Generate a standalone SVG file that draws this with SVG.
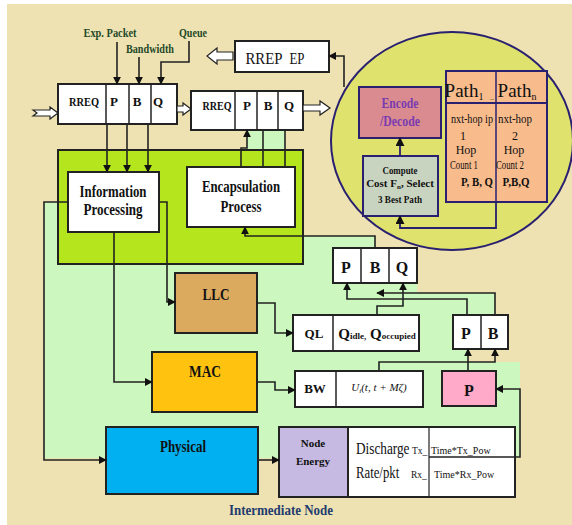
<svg xmlns="http://www.w3.org/2000/svg" width="572" height="525" viewBox="0 0 572 525">
<defs>
<style>
.t{font-family:"Liberation Serif","Times New Roman",serif;font-weight:bold;fill:#111;text-anchor:middle}
.n{font-family:"Liberation Serif","Times New Roman",serif;fill:#111;text-anchor:middle}
.lbl{font-family:"Liberation Serif","Times New Roman",serif;font-weight:bold;fill:#1f4a2a;text-anchor:middle;font-size:12px}
.box{fill:#fff;stroke:#222;stroke-width:2}
.ln{fill:none;stroke:#222;stroke-width:1.6}
.pl{fill:none;stroke:#2a2070;stroke-width:1.8}
.ha{fill:#fff;stroke:#222;stroke-width:1.2}
</style>
<marker id="ah" viewBox="0 0 10 10" refX="9" refY="5" markerWidth="5" markerHeight="5" orient="auto"><path d="M0,0L10,5L0,10z" fill="#111"/></marker>
<marker id="ap" viewBox="0 0 10 10" refX="9" refY="5" markerWidth="5" markerHeight="5" orient="auto"><path d="M0,0L10,5L0,10z" fill="#111"/></marker>
</defs>
<rect x="7" y="4" width="565" height="521" fill="#efe2b2"/>
<polygon points="44,202 58,202 58,264 303,264 303,236 375,236 375,248 417,248 417,293 495,293 495,349 468,349 468,362 520,362 520,458 44,458" fill="#ccf8bf"/>
<rect x="247" y="130" width="38" height="20" fill="#ccf8bf"/>
<g id="ellipse">
<ellipse cx="452" cy="141" rx="121" ry="109" fill="#dfe36e" stroke="#2a2070" stroke-width="2"/>
</g>
<g id="encode">
<rect x="359" y="87" width="82" height="51" fill="#d98b8f" stroke="#2a2070" stroke-width="2"/>
<text class="t" x="400" y="108" font-size="14" style="fill:#7a3bb0" textLength="37" lengthAdjust="spacingAndGlyphs">Encode</text>
<text class="t" x="400" y="126" font-size="14" style="fill:#7a3bb0" textLength="40" lengthAdjust="spacingAndGlyphs">/Decode</text>
</g>
<g id="compute">
<rect x="363" y="156" width="75" height="60" fill="#c8d4c0" stroke="#2a2070" stroke-width="2"/>
<text class="t" x="400" y="174" font-size="11" textLength="35" lengthAdjust="spacingAndGlyphs">Compute</text>
<text class="t" x="400" y="187" font-size="11">Cost F<tspan font-size="7" dy="2">n</tspan><tspan dy="-2">, Select</tspan></text>
<text class="t" x="400" y="203" font-size="11" textLength="44" lengthAdjust="spacingAndGlyphs">3 Best Path</text>
</g>
<g id="paths">
<rect x="446" y="71" width="101" height="131" fill="#f8bb8c" stroke="#2a2070" stroke-width="2"/>
<line x1="446" y1="103" x2="547" y2="103" stroke="#2a2070" stroke-width="2"/>
<line x1="496" y1="71" x2="496" y2="202" stroke="#2a2070" stroke-width="1.5"/>
<text class="n" x="464" y="97" font-size="19">Path<tspan font-size="10" dy="3">1</tspan></text>
<text class="n" x="492" y="100" font-size="8">..</text>
<text class="n" x="517" y="97" font-size="19">Path<tspan font-size="10" dy="3">n</tspan></text>
<text class="n" x="472" y="123" font-size="12" textLength="42" lengthAdjust="spacingAndGlyphs">nxt-hop ip</text>
<text class="n" x="515" y="123" font-size="12" textLength="34" lengthAdjust="spacingAndGlyphs">nxt-hop</text>
<text class="n" x="463" y="140" font-size="12">1</text>
<text class="n" x="515" y="140" font-size="12">2</text>
<text class="n" x="466" y="154" font-size="12">Hop</text>
<text class="n" x="514" y="154" font-size="12">Hop</text>
<text class="n" x="464" y="169" font-size="12" textLength="28" lengthAdjust="spacingAndGlyphs">Count 1</text>
<text class="n" x="510" y="169" font-size="12" textLength="28" lengthAdjust="spacingAndGlyphs">Count 2</text>
<text class="t" x="477" y="186" font-size="12" textLength="32" lengthAdjust="spacingAndGlyphs">P, B, Q</text>
<text class="t" x="516" y="186" font-size="12" textLength="27" lengthAdjust="spacingAndGlyphs">P,B,Q</text>
</g>
<g id="labels">
<text class="lbl" x="110" y="37" textLength="53" lengthAdjust="spacingAndGlyphs">Exp. Packet</text>
<text class="lbl" x="150" y="53" textLength="48" lengthAdjust="spacingAndGlyphs">Bandwidth</text>
<text class="lbl" x="193" y="37" textLength="28" lengthAdjust="spacingAndGlyphs">Queue</text>
</g>
<g id="rrep">
<rect class="box" x="235" y="41" width="94" height="31"/>
<text class="n" x="264" y="64" font-size="16" textLength="37" lengthAdjust="spacingAndGlyphs">RREP</text>
<text class="n" x="297" y="64" font-size="16" textLength="15" lengthAdjust="spacingAndGlyphs">EP</text>
</g>
<g id="rreq1">
<rect class="box" x="58" y="84" width="119" height="40"/>
<line x1="106" y1="84" x2="106" y2="124" stroke="#222" stroke-width="1.5"/>
<line x1="129" y1="84" x2="129" y2="124" stroke="#222" stroke-width="1.5"/>
<line x1="151" y1="84" x2="151" y2="124" stroke="#222" stroke-width="1.5"/>
<text class="t" x="84" y="106" font-size="13" textLength="30" lengthAdjust="spacingAndGlyphs">RREQ</text>
<text class="t" x="114" y="106" font-size="13">P</text>
<text class="t" x="137" y="106" font-size="13">B</text>
<text class="t" x="158" y="106" font-size="13">Q</text>
</g>
<g id="rreq2">
<rect class="box" x="191" y="91" width="112" height="39"/>
<line x1="235" y1="91" x2="235" y2="130" stroke="#222" stroke-width="1.5"/>
<line x1="257" y1="91" x2="257" y2="130" stroke="#222" stroke-width="1.5"/>
<line x1="278" y1="91" x2="278" y2="130" stroke="#222" stroke-width="1.5"/>
<text class="t" x="217" y="110" font-size="13" textLength="29" lengthAdjust="spacingAndGlyphs">RREQ</text>
<text class="t" x="247" y="110" font-size="13">P</text>
<text class="t" x="268" y="110" font-size="13">B</text>
<text class="t" x="289" y="110" font-size="13">Q</text>
</g>
<g id="container">
<rect x="58" y="150" width="245" height="114" fill="#b5e61d" stroke="#222" stroke-width="2"/>
</g>
<g id="info">
<rect class="box" x="68" y="172" width="91" height="60"/>
<text class="t" x="113" y="197" font-size="16" textLength="67" lengthAdjust="spacingAndGlyphs">Information</text>
<text class="t" x="113" y="215" font-size="16" textLength="59" lengthAdjust="spacingAndGlyphs">Processing</text>
</g>
<g id="encap">
<rect class="box" x="187" y="167" width="108" height="60"/>
<text class="t" x="241" y="192" font-size="16" textLength="78" lengthAdjust="spacingAndGlyphs">Encapsulation</text>
<text class="t" x="241" y="212" font-size="16" textLength="41" lengthAdjust="spacingAndGlyphs">Process</text>
</g>
<g id="pbq">
<rect class="box" x="333" y="248" width="84" height="35"/>
<line x1="361" y1="248" x2="361" y2="283" stroke="#222" stroke-width="1.5"/>
<line x1="389" y1="248" x2="389" y2="283" stroke="#222" stroke-width="1.5"/>
<text class="t" x="346" y="273" font-size="16">P</text>
<text class="t" x="375" y="273" font-size="16">B</text>
<text class="t" x="402" y="273" font-size="16">Q</text>
</g>
<g id="llc">
<rect x="175" y="273" width="82" height="60" fill="#dcaa5e" stroke="#222" stroke-width="2"/>
<text class="t" x="216" y="300" font-size="16" textLength="27" lengthAdjust="spacingAndGlyphs">LLC</text>
</g>
<g id="ql">
<rect class="box" x="293" y="315" width="126" height="36"/>
<line x1="333" y1="315" x2="333" y2="351" stroke="#222" stroke-width="1.5"/>
<text class="t" x="314" y="338" font-size="13">QL</text>
<text class="t" x="377" y="339" font-size="15">Q<tspan font-size="9">idle,</tspan> Q<tspan font-size="9">occupied</tspan></text>
</g>
<g id="pb">
<rect class="box" x="453" y="315" width="55" height="34"/>
<line x1="481" y1="315" x2="481" y2="349" stroke="#222" stroke-width="1.5"/>
<text class="t" x="466" y="339" font-size="16">P</text>
<text class="t" x="493" y="339" font-size="16">B</text>
</g>
<g id="mac">
<rect x="152" y="352" width="105" height="60" fill="#ffc20e" stroke="#222" stroke-width="2"/>
<text class="t" x="205" y="377" font-size="16" textLength="32" lengthAdjust="spacingAndGlyphs">MAC</text>
</g>
<g id="bw">
<rect class="box" x="295" y="371" width="128" height="36"/>
<line x1="336" y1="371" x2="336" y2="407" stroke="#222" stroke-width="1.5"/>
<text class="t" x="315" y="393" font-size="13">BW</text>
<text class="n" x="379" y="391" font-size="11" font-style="italic">U<tspan font-size="7" dy="2">i</tspan><tspan dy="-2">(t, t + Mζ)</tspan></text>
</g>
<g id="pink">
<rect x="442" y="371" width="54" height="35" fill="#ffaac8" stroke="#222" stroke-width="2"/>
<text class="t" x="469" y="396" font-size="16">P</text>
</g>
<g id="physical">
<rect x="106" y="427" width="152" height="67" fill="#00b0f0" stroke="#222" stroke-width="2"/>
<text class="t" x="183" y="452" font-size="16" textLength="46" lengthAdjust="spacingAndGlyphs">Physical</text>
</g>
<g id="energy">
<rect x="279" y="427" width="69" height="70" fill="#c6b9e2" stroke="#222" stroke-width="2"/>
<text class="t" x="313" y="447" font-size="11">Node</text>
<text class="t" x="313" y="465" font-size="11">Energy</text>
<rect class="box" x="348" y="427" width="167" height="70"/>
<line x1="429" y1="427" x2="429" y2="497" stroke="#222" stroke-width="1.2"/>
<text class="n" transform="translate(356,454) scale(0.78,1)" font-size="17" style="text-anchor:start">Discharge</text>
<text class="n" x="412" y="454" font-size="9.5" style="text-anchor:start">Tx_</text>
<text class="n" x="431" y="454" font-size="10" style="text-anchor:start">Time*Tx_Pow</text>
<text class="n" transform="translate(356,478) scale(0.75,1)" font-size="17" style="text-anchor:start">Rate/pkt</text>
<text class="n" x="411" y="478" font-size="9.5" style="text-anchor:start">Rx_</text>
<text class="n" x="434" y="478" font-size="10" style="text-anchor:start">Time*Rx_Pow</text>
</g>
<text class="t" x="281" y="515" font-size="14" style="fill:#1f3c6e" textLength="104" lengthAdjust="spacingAndGlyphs">Intermediate Node</text>
<g id="connectors">
<path class="ha" d="M33,110 L37,113 L33,116 L50,116 L50,119 L58,113 L50,107 L50,110 Z"/>
<path class="ha" d="M177,106 L183,106 L183,103 L191,109 L183,115 L183,112 L177,112 Z"/>
<path class="ha" d="M303,105 L320,105 L320,101 L330,108 L320,115 L320,111 L303,111 Z"/>
<path class="ha" d="M233,52 L217,52 L217,48 L207,56 L217,64 L217,60 L233,60 Z"/>
<path class="ln" d="M117,42 V84" marker-end="url(#ah)"/>
<path class="ln" d="M139,57 V84" marker-end="url(#ah)"/>
<path class="ln" d="M189,41 V62 H161 V84" marker-end="url(#ah)"/>
<path class="ln" d="M107,124 V172" marker-end="url(#ah)"/>
<path class="ln" d="M127,124 V172" marker-end="url(#ah)"/>
<path class="ln" d="M148,124 V172" marker-end="url(#ah)"/>
<path class="ln" d="M241,167 V148 H247 V130" marker-end="url(#ah)"/>
<path class="ln" d="M263,167 V130"/>
<path class="ln" d="M285,167 V130"/>
<path class="ln" d="M344,87 V56 H329" marker-end="url(#ah)"/>
<path class="pl" d="M400,156 V138" marker-end="url(#ap)"/>
<path class="pl" d="M496,202 V228 H400 V216" marker-end="url(#ap)"/>
<path class="ln" d="M375,248 V236 H245 V227" marker-end="url(#ah)"/>
<path class="ln" d="M68,202 H44 V460 H106" marker-end="url(#ah)"/>
<path class="ln" d="M159,202 H167 V302 H175" marker-end="url(#ah)"/>
<path class="ln" d="M114,232 V382 H152" marker-end="url(#ah)"/>
<path class="ln" d="M257,303 H275 V333 H293" marker-end="url(#ah)"/>
<path class="ln" d="M257,382 H275 V390 H295" marker-end="url(#ah)"/>
<path class="ln" d="M258,460 H279" marker-end="url(#ah)"/>
<path class="ln" d="M377,315 V306 H403 V283" marker-end="url(#ah)"/>
<path class="ln" d="M467,315 V299 H347 V283" marker-end="url(#ah)"/>
<path class="ln" d="M495,315 V293 H377" marker-end="url(#ah)"/>
<path class="ln" d="M379,371 V362 H495 V349" marker-end="url(#ah)"/>
<path class="ln" d="M468,371 V349" marker-end="url(#ah)"/>
<path class="ln" d="M429,457 H520 V389 H496" marker-end="url(#ah)"/>
</g>
</svg>
